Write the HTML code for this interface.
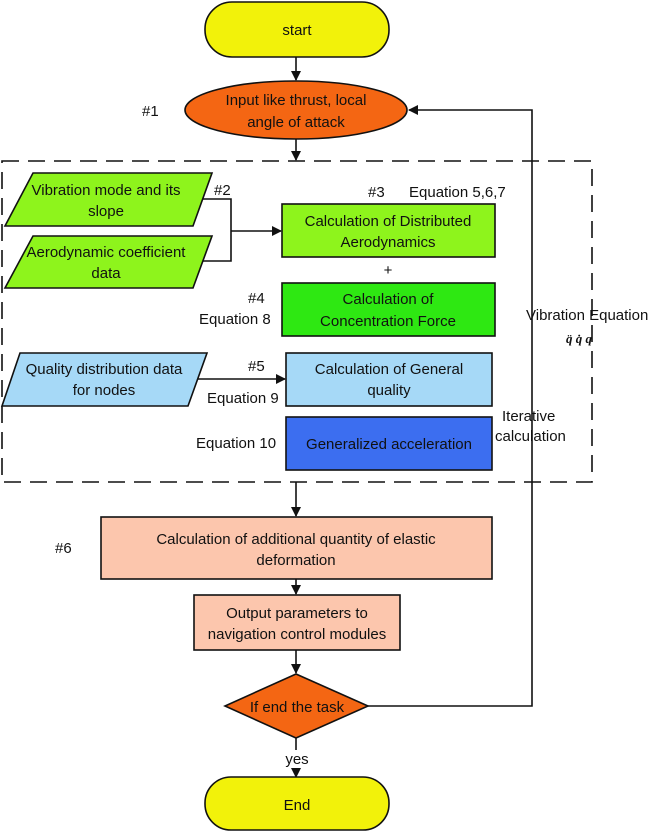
<!DOCTYPE html>
<html><head><meta charset="utf-8"><style>
html,body{margin:0;padding:0;background:#fff}
svg{display:block}
text{font-family:"Liberation Sans",sans-serif;font-size:15px;fill:#111}
</style></head><body>
<svg width="661" height="833" viewBox="0 0 661 833" xmlns="http://www.w3.org/2000/svg">
<defs><marker id="a" markerWidth="10" markerHeight="10" refX="9" refY="5" orient="auto" markerUnits="userSpaceOnUse"><path d="M0,0 L10,5 L0,10 z" fill="#111"/></marker></defs>
<g stroke="#111" stroke-width="1.6" fill="none">
<rect x="2" y="161" width="590" height="321" stroke-dasharray="17,9"/>
<line x1="296" y1="57" x2="296" y2="80" marker-end="url(#a)"/>
<line x1="296" y1="139" x2="296" y2="160" marker-end="url(#a)"/>
<polyline points="199,199 231,199 231,261 199,261"/>
<line x1="231" y1="231" x2="281" y2="231" marker-end="url(#a)"/>
<line x1="198" y1="379" x2="285" y2="379" marker-end="url(#a)"/>
<line x1="296" y1="482" x2="296" y2="516" marker-end="url(#a)"/>
<line x1="296" y1="579" x2="296" y2="594" marker-end="url(#a)"/>
<line x1="296" y1="650" x2="296" y2="673" marker-end="url(#a)"/>
<line x1="296" y1="738" x2="296" y2="750"/>
<line x1="296" y1="768" x2="296" y2="777" marker-end="url(#a)"/>
<polyline points="368,706 532,706 532,110 409,110" marker-end="url(#a)"/>
</g>
<g stroke="#111" stroke-width="1.6">
<rect x="205" y="2" width="184" height="55" rx="27" fill="#f2f20a"/>
<ellipse cx="296" cy="110" rx="111" ry="29" fill="#f46613"/>
<polygon points="33,173 212,173 193,226 5,226" fill="#8ef41c"/>
<polygon points="33,236 212,236 193,288 5,288" fill="#8ef41c"/>
<rect x="282" y="204" width="213" height="53" fill="#8ef41c"/>
<rect x="282" y="283" width="213" height="53" fill="#2ee812"/>
<polygon points="20,353 207,353 188,406 2,406" fill="#a6d9f7"/>
<rect x="286" y="353" width="206" height="53" fill="#a6d9f7"/>
<rect x="286" y="417" width="206" height="53" fill="#3c6ef0"/>
<rect x="101" y="517" width="391" height="62" fill="#fcc6ad"/>
<rect x="194" y="595" width="206" height="55" fill="#fcc6ad"/>
<polygon points="296,674 368,706 296,738 225,706" fill="#f46613"/>
<rect x="205" y="777" width="184" height="53" rx="26" fill="#f2f20a"/>
</g>
<g text-anchor="middle">
<text x="297" y="35">start</text>
<text x="296" y="105">Input like thrust, local</text>
<text x="296" y="127">angle of attack</text>
<text x="106" y="195">Vibration mode and its</text>
<text x="106" y="216">slope</text>
<text x="106" y="257">Aerodynamic coefficient</text>
<text x="106" y="278">data</text>
<text x="388" y="226">Calculation of Distributed</text>
<text x="388" y="247">Aerodynamics</text>
<text x="388" y="275">+</text>
<text x="388" y="304">Calculation of</text>
<text x="388" y="326">Concentration Force</text>
<text x="104" y="374">Quality distribution data</text>
<text x="104" y="395">for nodes</text>
<text x="389" y="374">Calculation of General</text>
<text x="389" y="395">quality</text>
<text x="389" y="449">Generalized acceleration</text>
<text x="296" y="544">Calculation of additional quantity of elastic</text>
<text x="296" y="565">deformation</text>
<text x="297" y="618">Output parameters to</text>
<text x="297" y="639">navigation control modules</text>
<text x="297" y="712">If end the task</text>
<text x="297" y="764">yes</text>
<text x="297" y="810">End</text>
</g>
<text x="142" y="116">#1</text>
<text x="214" y="195">#2</text>
<text x="368" y="197">#3</text>
<text x="409" y="197">Equation 5,6,7</text>
<text x="248" y="303">#4</text>
<text x="199" y="324">Equation 8</text>
<text x="248" y="371">#5</text>
<text x="207" y="403">Equation 9</text>
<text x="196" y="448">Equation 10</text>
<text x="502" y="421">Iterative</text>
<text x="495" y="441">calculation</text>
<text x="526" y="320">Vibration Equation</text>
<text x="566" y="343" style="font-size:13px;font-style:italic;font-weight:bold;font-family:'Liberation Serif',serif">q̈ q̇ q</text>
<text x="55" y="553">#6</text>
</svg>
</body></html>
